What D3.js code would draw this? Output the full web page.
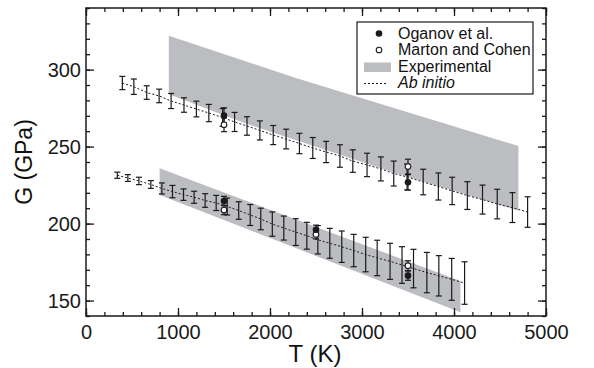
<!DOCTYPE html>
<html>
<head>
<meta charset="utf-8">
<script src="https://cdn.jsdelivr.net/npm/d3@7"></script>
<style>
  body { margin: 0; background: #fff; }
  svg text { font-family: "Liberation Sans", Arial, Helvetica, sans-serif; fill: #111; }
</style>
</head>
<body>
<div id="chart"></div>
<script>
// ab initio results, upper branch
var upperT = [395, 520, 660, 795, 925, 1065, 1200, 1335, 1485, 1615, 1750, 1890, 2035, 2175, 2320, 2465,
              2610, 2760, 2900, 3055, 3205, 3345, 3490, 3665, 3830, 3980, 4145, 4310, 4470, 4635, 4800];
var upperG = [291.3, 288.9, 285.1, 282.9, 279.6, 277.0, 274.4, 271.8, 268.9, 266.0, 263.4, 260.5, 257.5, 254.9, 252.0, 249.1,
              246.5, 243.9, 240.6, 238.1, 235.5, 232.5, 230.3, 227.0, 224.1, 221.2, 218.2, 215.6, 212.7, 210.4, 207.5];
var upperErr = [4.3, 5.0, 4.4, 4.4, 4.9, 4.7, 5.1, 5.6, 5.8, 6.2, 6.0, 6.2, 6.2, 6.4, 6.6, 6.8,
                6.9, 7.3, 7.3, 7.6, 7.8, 8.1, 8.4, 8.3, 8.8, 8.9, 9.0, 9.4, 9.6, 9.7, 9.9];

// ab initio results, lower branch
var lowerT = [340, 455, 575, 705, 825, 940, 1060, 1175, 1295, 1415, 1535, 1660, 1785, 1900, 2025, 2150,
              2280, 2400, 2520, 2650, 2780, 2910, 3040, 3165, 3305, 3435, 3560, 3705, 3835, 3975, 4115];
var lowerG = [231.4, 229.6, 227.7, 225.4, 222.8, 220.8, 218.8, 217.1, 215.0, 213.4, 211.1, 208.5, 205.6, 203.0, 199.7, 197.1,
              194.5, 192.1, 189.5, 187.2, 185.0, 182.5, 179.9, 177.7, 175.5, 173.1, 170.8, 168.2, 166.1, 163.8, 161.4];
var lowerErr = [2.0, 2.2, 2.4, 2.5, 3.6, 4.0, 3.7, 3.9, 4.4, 4.9, 5.5, 5.7, 6.8, 7.0, 7.9, 7.8,
                8.7, 8.7, 9.2, 9.7, 10.2, 10.5, 11.2, 11.5, 11.7, 11.9, 12.5, 13.1, 13.1, 13.6, 13.8];

// other calculations
var oganovT = [1500, 3500, 1500, 2500, 3500];
var oganovG = [270.2, 226.8, 214.7, 196.0, 166.2];
var oganovErr = [5, 5, 3, 3, 3];
var martonT = [1500, 3500, 1500, 2500, 3500];
var martonG = [264.2, 237.0, 208.8, 193.0, 172.7];
var martonErr = [4.5, 4.8, 3, 3, 3.2];

// experimental ranges (top edge, bottom edge)
var expUpperTopT = [900, 2290, 4700];
var expUpperTopG = [322.0, 294.4, 250.4];
var expUpperBotT = [900, 1730, 3370, 4700];
var expUpperBotG = [284.0, 265.1, 232.7, 208.4];
var expLowerTopT = [800, 4070];
var expLowerTopG = [235.9, 162.7];
var expLowerBotT = [800, 4070];
var expLowerBotG = [218.6, 142.4];

var xTicks = [0, 1000, 2000, 3000, 4000, 5000];
var yTicks = [150, 200, 250, 300];
var legendLabels = ['Oganov et al.', 'Marton and Cohen', 'Experimental', 'Ab initio'];

var fullWidth = 594, fullHeight = 368;
var margin = {top: 8, right: 48, bottom: 52, left: 86};
var width = fullWidth - margin.left - margin.right;
var height = fullHeight - margin.top - margin.bottom;

var band_grey = '#bcbdc0';
var ink = '#1a1a1a';

var svg = d3.select('#chart').append('svg')
  .attr('width', fullWidth)
  .attr('height', fullHeight)
  .append('g')
    .attr('transform', 'translate(' + margin.left + ',' + margin.top + ')');

var xScale = d3.scaleLinear().domain([0, 5000]).range([0, width]);
var yScale = d3.scaleLinear().domain([140, 340]).range([height, 0]);

// experimental bands
function band(topT, topG, botT, botG) {
  var pts = topT.map(function(t, i) { return [t, topG[i]]; });
  var bot = botT.map(function(t, i) { return [t, botG[i]]; }).reverse();
  return pts.concat(bot);
}
var bandLine = d3.line()
  .x(function(d) { return xScale(d[0]); })
  .y(function(d) { return yScale(d[1]); });

[band(expUpperTopT, expUpperTopG, expUpperBotT, expUpperBotG),
 band(expLowerTopT, expLowerTopG, expLowerBotT, expLowerBotG)].forEach(function(b) {
  svg.append('path')
    .attr('d', bandLine(b) + 'Z')
    .style('fill', band_grey)
    .style('stroke', 'none');
});

// ab initio dotted lines + error bars
function series(T, G, E) {
  return T.map(function(t, i) { return {t: t, g: G[i], e: E[i]}; });
}
var seriesLine = d3.line()
  .x(function(d) { return xScale(d.t); })
  .y(function(d) { return yScale(d.g); });

function errorBars(data, cap) {
  var g = svg.append('g');
  data.forEach(function(d) {
    var x = xScale(d.t), y1 = yScale(d.g + d.e), y2 = yScale(d.g - d.e);
    g.append('line').attr('x1', x).attr('x2', x).attr('y1', y1).attr('y2', y2);
    g.append('line').attr('x1', x - cap).attr('x2', x + cap).attr('y1', y1).attr('y2', y1);
    g.append('line').attr('x1', x - cap).attr('x2', x + cap).attr('y1', y2).attr('y2', y2);
  });
  g.selectAll('line').style('stroke', ink).style('stroke-width', 1.2);
}

[series(upperT, upperG, upperErr), series(lowerT, lowerG, lowerErr)].forEach(function(s) {
  svg.append('path')
    .attr('d', seriesLine(s))
    .style('fill', 'none')
    .style('stroke', ink)
    .style('stroke-width', 1)
    .style('stroke-dasharray', '2,2');
  errorBars(s, 3);
});

// Oganov / Marton points
var oganov = series(oganovT, oganovG, oganovErr);
var marton = series(martonT, martonG, martonErr);
errorBars(oganov, 3);
errorBars(marton, 3);

svg.append('g').selectAll('circle').data(marton).enter().append('circle')
  .attr('cx', function(d) { return xScale(d.t); })
  .attr('cy', function(d) { return yScale(d.g); })
  .attr('r', 2.8)
  .style('fill', '#fff')
  .style('stroke', ink)
  .style('stroke-width', 1.1);

svg.append('g').selectAll('circle').data(oganov).enter().append('circle')
  .attr('cx', function(d) { return xScale(d.t); })
  .attr('cy', function(d) { return yScale(d.g); })
  .attr('r', 3.3)
  .style('fill', ink);

// axes with inward ticks on all sides
function styleAxis(sel) {
  sel.select('.domain').remove();
  sel.selectAll('line').style('stroke', ink).style('stroke-width', 1.3);
  sel.selectAll('text').style('font-size', '20px').style('fill', ink);
}
var xMinor = d3.range(0, 5001, 200), yMinor = d3.range(140, 341, 10);

svg.append('g').attr('transform', 'translate(0,' + height + ')')
  .call(d3.axisBottom(xScale).tickValues(xMinor).tickSize(-4).tickFormat(''))
  .call(styleAxis);
svg.append('g').attr('transform', 'translate(0,' + height + ')')
  .call(d3.axisBottom(xScale).tickValues(xTicks).tickSize(-8).tickPadding(9).tickFormat(d3.format('d')))
  .call(styleAxis);
svg.append('g')
  .call(d3.axisTop(xScale).tickValues(xMinor).tickSize(-4).tickFormat(''))
  .call(styleAxis);
svg.append('g')
  .call(d3.axisTop(xScale).tickValues(xTicks).tickSize(-8).tickFormat(''))
  .call(styleAxis);

svg.append('g')
  .call(d3.axisLeft(yScale).tickValues(yMinor).tickSize(-4).tickFormat(''))
  .call(styleAxis);
svg.append('g')
  .call(d3.axisLeft(yScale).tickValues(yTicks).tickSize(-8).tickPadding(5).tickFormat(d3.format('d')))
  .call(styleAxis);
svg.append('g').attr('transform', 'translate(' + width + ',0)')
  .call(d3.axisRight(yScale).tickValues(yMinor).tickSize(-4).tickFormat(''))
  .call(styleAxis);
svg.append('g').attr('transform', 'translate(' + width + ',0)')
  .call(d3.axisRight(yScale).tickValues(yTicks).tickSize(-8).tickFormat(''))
  .call(styleAxis);

svg.append('rect')
  .attr('width', width)
  .attr('height', height)
  .style('fill', 'none')
  .style('stroke', ink)
  .style('stroke-width', 1.5);

// axis titles
svg.append('text')
  .attr('x', width / 2 - 1)
  .attr('y', height + 46)
  .style('text-anchor', 'middle')
  .style('font-size', '24px')
  .text('T (K)');

svg.append('text')
  .attr('transform', 'translate(-54,' + (height / 2) + ')rotate(-90)')
  .style('text-anchor', 'middle')
  .style('font-size', '23px')
  .text('G (GPa)');

// legend
var legend = svg.append('g')
  .attr('transform', 'translate(' + (357 - margin.left) + ',' + (22 - margin.top) + ')');

legend.append('rect')
  .attr('width', 176)
  .attr('height', 72)
  .style('fill', '#fff')
  .style('stroke', ink)
  .style('stroke-width', 1.2);

legend.append('circle').attr('cx', 22).attr('cy', 11.5).attr('r', 3.3).style('fill', ink);
legend.append('circle').attr('cx', 22).attr('cy', 28).attr('r', 2.8)
  .style('fill', '#fff').style('stroke', ink).style('stroke-width', 1.1);
legend.append('rect').attr('x', 7).attr('y', 40.5).attr('width', 27).attr('height', 9.5)
  .style('fill', band_grey);
legend.append('line').attr('x1', 7).attr('x2', 31).attr('y1', 61.5).attr('y2', 61.5)
  .style('stroke', ink).style('stroke-width', 1).style('stroke-dasharray', '2,2');

legend.selectAll('text.lab').data(legendLabels).enter().append('text')
  .attr('class', 'lab')
  .attr('x', 41)
  .attr('y', function(d, i) { return 17 + i * 16.3; })
  .style('font-size', '16px')
  .style('font-style', function(d, i) { return i === 3 ? 'italic' : 'normal'; })
  .text(function(d) { return d; });
</script>
</body>
</html>
